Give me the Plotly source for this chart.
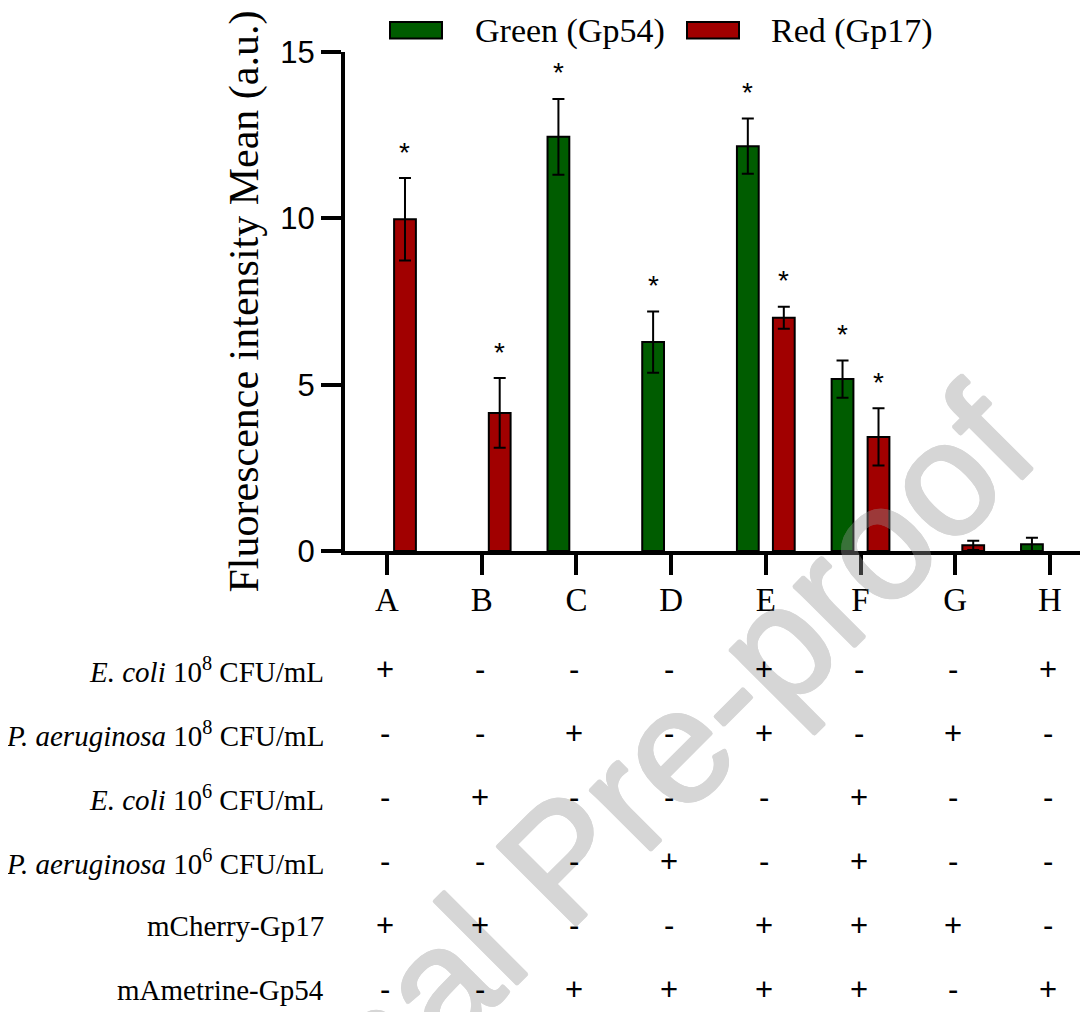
import plotly.graph_objects as go

# ---------------- data ----------------
categories = ["A", "B", "C", "D", "E", "F", "G", "H"]
green_vals = [None, None, 12.45, 6.28, 12.17, 5.17, None, 0.20]
green_err = [None, None, 1.14, 0.92, 0.83, 0.56, None, 0.20]
red_vals = [9.97, 4.15, None, None, 7.01, 3.43, 0.17, None]
red_err = [1.24, 1.05, None, None, 0.33, 0.86, 0.14, None]
green_sig = [False, False, True, True, True, True, False, False]
red_sig = [True, True, False, False, True, True, False, False]

row_labels = [
    "<i>E. coli</i> 10<sup>8</sup> CFU/mL",
    "<i>P. aeruginosa</i> 10<sup>8</sup> CFU/mL",
    "<i>E. coli</i> 10<sup>6</sup> CFU/mL",
    "<i>P. aeruginosa</i> 10<sup>6</sup> CFU/mL",
    "mCherry-Gp17",
    "mAmetrine-Gp54",
]
row_signs = [
    ["+", "-", "-", "-", "+", "-", "-", "+"],
    ["-", "-", "+", "-", "+", "-", "+", "-"],
    ["-", "+", "-", "-", "-", "+", "-", "-"],
    ["-", "-", "-", "+", "-", "+", "-", "-"],
    ["+", "+", "-", "-", "+", "+", "+", "-"],
    ["-", "-", "+", "+", "+", "+", "-", "+"],
]
y_ticks = [0, 5, 10, 15]
series_names = ["Green (Gp54)", "Red (Gp17)"]

# ---------------- style / layout constants ----------------
PAGE_PAD = 8                      # default body margin of the html page
W, H = 1088 - PAGE_PAD, 1012 - PAGE_PAD
L, R, T, B = 337, 0, 44, 461
PW, PH = W - L - R, H - T - B
GREEN = "#005C00"
RED = "#A10000"
SERIF = "Liberation Serif, Times New Roman, serif"
SANS = "Liberation Sans, Arial, sans-serif"
BAR_W = 0.23
BAR_SHIFT = 0.19
WM_GRAY = "rgb(150,150,150)"


def px2x(px):
    return (px - PAGE_PAD - L) / PW


def py2y(py):
    return (H - B - (py - PAGE_PAD)) / PH


fig = go.Figure()
for vals, errs, color, name, shift in [
    (green_vals, green_err, GREEN, series_names[0], -BAR_SHIFT),
    (red_vals, red_err, RED, series_names[1], BAR_SHIFT),
]:
    fig.add_trace(go.Bar(
        x=categories, y=vals, name=name,
        width=BAR_W, offset=shift - BAR_W / 2,
        marker=dict(color=color, line=dict(color="black", width=2)),
        error_y=dict(type="data", array=errs, visible=True,
                     color="black", thickness=2, width=6),
        showlegend=False,
    ))

annotations = []
# watermark (drawn first so the table text sits on top of it)
offs = [(1.5, 0), (-1.5, 0), (0, 1.5), (0, -1.5),
        (1, 1), (-1, -1), (1, -1), (-1, 1)]
wm_shadow = ", ".join(f"{dx}px {dy}px 0 {WM_GRAY}" for dx, dy in offs)
annotations.append(dict(
    x=px2x(562), y=py2y(860), xref="paper", yref="paper",
    xanchor="center", yanchor="middle", opacity=0.38,
    text="Journal Pre-proof", showarrow=False, textangle=-45,
    font=dict(family=SANS, size=162, color=WM_GRAY, shadow=wm_shadow)))

# significance stars
for vals, errs, sig, shift in [
    (green_vals, green_err, green_sig, -BAR_SHIFT),
    (red_vals, red_err, red_sig, BAR_SHIFT),
]:
    for i, (v, e, s) in enumerate(zip(vals, errs, sig)):
        if s:
            annotations.append(dict(
                x=i + shift, y=v + e, xref="x", yref="y", text="*",
                showarrow=False, xanchor="center", yanchor="middle", yshift=26,
                font=dict(family=SANS, size=28, color="black")))

# custom legend
legend_items = [(390, 442, 473, GREEN, series_names[0]),
                (687, 739, 769, RED, series_names[1])]
shapes = []
for x0, x1, tx, color, name in legend_items:
    shapes.append(dict(type="rect", xref="paper", yref="paper",
                       x0=px2x(x0), x1=px2x(x1), y0=py2y(38.5), y1=py2y(22),
                       fillcolor=color, line=dict(color="black", width=2)))
    annotations.append(dict(x=px2x(tx), y=py2y(31), xref="paper", yref="paper",
                            text=name, showarrow=False, xanchor="left",
                            yanchor="middle",
                            font=dict(family=SERIF, size=34, color="black")))

# condition table
row_y = [669.5, 733.5, 797.5, 861.5, 925.5, 989.5]
for r, (lab, signs) in enumerate(zip(row_labels, row_signs)):
    annotations.append(dict(x=px2x(326), y=py2y(row_y[r]), xref="paper", yref="paper",
                            text=lab, showarrow=False, xanchor="right",
                            yanchor="middle",
                            font=dict(family=SERIF, size=29, color="black")))
    for i, s in enumerate(signs):
        annotations.append(dict(x=i, y=py2y(row_y[r]), xref="x", yref="paper",
                                text=s, showarrow=False, xshift=-2,
                                xanchor="center", yanchor="middle",
                                font=dict(family=SANS, size=31, color="black")))

fig.update_layout(
    width=W, height=H,
    margin=dict(l=L, r=R, t=T, b=B, pad=0),
    paper_bgcolor="white", plot_bgcolor="white",
    barmode="overlay",
    annotations=annotations, shapes=shapes,
    showlegend=False,
)
fig.update_xaxes(
    type="category", range=[-0.4435, 7.402],
    showline=True, linewidth=4, linecolor="black",
    ticks="outside", ticklen=20, tickwidth=4, tickcolor="black",
    showgrid=False, zeroline=False, ticklabelstandoff=-4,
    tickfont=dict(family=SERIF, size=33, color="black"),
)
fig.update_yaxes(
    range=[0, 15], tickvals=y_ticks,
    showline=True, linewidth=4, linecolor="black",
    ticks="outside", ticklen=20, tickwidth=4, tickcolor="black",
    showgrid=False, zeroline=False,
    tickfont=dict(family=SANS, size=31, color="black"),
    title=dict(text="Fluorescence intensity Mean (a.u.)",
               font=dict(family=SERIF, size=42, color="black"), standoff=10),
)

fig.write_html("out.html")
